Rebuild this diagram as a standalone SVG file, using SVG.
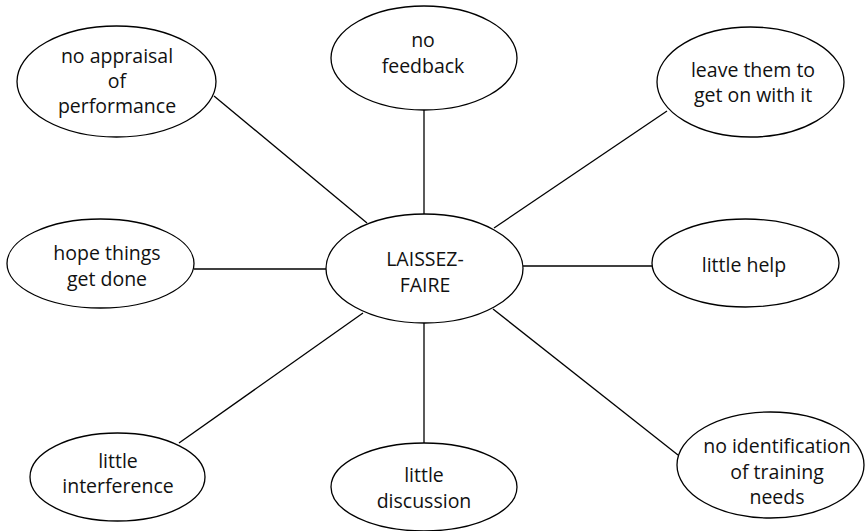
<svg xmlns="http://www.w3.org/2000/svg" width="866" height="531" viewBox="0 0 866 531">
  <style>
    .bubble { fill: #ffffff; stroke: #000000; stroke-width: 1.3; }
    .link { stroke: #000000; stroke-width: 1.3; fill: none; }
    .label { font-family: "Open Sans", "Noto Sans", "Liberation Sans", sans-serif; font-size: 19.5px; fill: #111111; text-anchor: middle; }
  </style>
  <rect width="866" height="531" fill="#ffffff"/>

  <!-- spokes from the hub to each surrounding idea -->
  <g id="connectors">
    <line class="link" x1="214" y1="96" x2="367" y2="223"/>
    <line class="link" x1="424" y1="110" x2="424" y2="214"/>
    <line class="link" x1="667" y1="111" x2="494" y2="228"/>
    <line class="link" x1="194" y1="269" x2="326" y2="269"/>
    <line class="link" x1="523" y1="266" x2="652" y2="266"/>
    <line class="link" x1="363" y1="313" x2="179" y2="443"/>
    <line class="link" x1="424" y1="323" x2="424" y2="443"/>
    <line class="link" x1="493" y1="309" x2="678" y2="455"/>
  </g>

  <g id="hub">
    <ellipse class="bubble" cx="424.5" cy="268.5" rx="98.5" ry="54.5"/>
    <text class="label" x="425" y="266">LAISSEZ-</text>
    <text class="label" x="425" y="292">FAIRE</text>
  </g>

  <g id="no-appraisal">
    <ellipse class="bubble" cx="116.5" cy="81.5" rx="99.5" ry="55.5"/>
    <text class="label" x="117" y="63">no appraisal</text>
    <text class="label" x="117" y="88">of</text>
    <text class="label" x="117" y="113">performance</text>
  </g>

  <g id="no-feedback">
    <ellipse class="bubble" cx="424" cy="58" rx="93" ry="52"/>
    <text class="label" x="423" y="47">no</text>
    <text class="label" x="423" y="73">feedback</text>
  </g>

  <g id="leave-them">
    <ellipse class="bubble" cx="750.5" cy="82" rx="93.5" ry="55"/>
    <text class="label" x="753" y="77">leave them to</text>
    <text class="label" x="753" y="102">get on with it</text>
  </g>

  <g id="hope-things">
    <ellipse class="bubble" cx="100.5" cy="263.5" rx="93.5" ry="44.5"/>
    <text class="label" x="107" y="260">hope things</text>
    <text class="label" x="107" y="286">get done</text>
  </g>

  <g id="little-help">
    <ellipse class="bubble" cx="745.5" cy="263" rx="93.5" ry="44"/>
    <text class="label" x="744" y="272">little help</text>
  </g>

  <g id="little-interference">
    <ellipse class="bubble" cx="117.5" cy="477" rx="87.5" ry="44"/>
    <text class="label" x="118" y="468">little</text>
    <text class="label" x="118" y="493">interference</text>
  </g>

  <g id="little-discussion">
    <ellipse class="bubble" cx="424" cy="487" rx="93" ry="44"/>
    <text class="label" x="424" y="482">little</text>
    <text class="label" x="424" y="508">discussion</text>
  </g>

  <g id="no-identification">
    <ellipse class="bubble" cx="770.5" cy="465" rx="93.5" ry="53"/>
    <text class="label" x="777" y="453">no identification</text>
    <text class="label" x="777" y="479">of training</text>
    <text class="label" x="777" y="504">needs</text>
  </g>
</svg>
